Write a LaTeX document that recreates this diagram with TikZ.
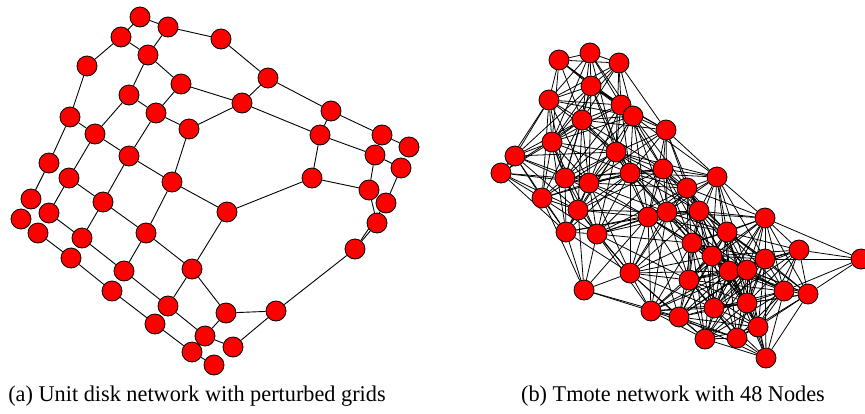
\documentclass[tikz,border=0pt]{standalone}
\usepackage{fontspec}
\setmainfont{Liberation Serif}
\usetikzlibrary{backgrounds}
\tikzset{
  vtx/.style={circle, draw=black, fill=red, line width=0.8pt, minimum size=20pt, inner sep=0pt},
  lnk/.style={draw=black, line width=0.9pt},
  tlnk/.style={draw=black, line width=0.8pt},
  captxt/.style={font=\fontsize{22.5}{26}\selectfont, anchor=base, inner sep=0pt, xscale=0.99}
}
\begin{document}
\begin{tikzpicture}[x=1pt, y=-1pt]
\useasboundingbox (0,0) rectangle (865,413);

% ---- (a) unit disk network on perturbed grids ----
\foreach \px/\py [count=\k] in {
  140/17, 168/27, 121/37, 148/55, 221/39, 87/66, 181/84, 129/95, 156/113, 268/78,
  242/103, 70/117, 95/134, 189/129, 49/163, 129/156, 69/178, 172/182, 331/111, 320/135,
  382/135, 409/147, 375/155, 401/168, 312/178, 369/190, 386/203, 377/223, 355/249, 227/212,
  31/199, 49/213, 21/219, 103/202, 38/233, 82/238, 146/233, 71/258, 124/271, 192/269,
  112/291, 168/306, 226/313, 276/311, 155/324, 205/336, 233/347, 192/352, 214/365}
  \node[vtx] (a\k) at (\px,\py) {};

\begin{scope}[on background layer]
\foreach \u/\v in {
  1/2, 1/3, 2/4, 2/5, 3/4, 3/6, 4/8, 4/7, 7/9, 7/11, 6/12, 8/9, 8/13, 9/14, 9/16,
  14/18, 14/11, 12/15, 12/13, 13/17, 13/16, 16/18, 16/34, 15/31, 17/34, 17/32,
  5/10, 10/11, 10/19, 11/20, 19/20, 19/21, 20/23, 20/25, 21/22, 23/24, 23/26,
  24/27, 26/25, 26/28, 28/29, 27/29, 29/44, 25/30, 30/18, 30/40, 34/36, 34/37,
  37/18, 37/39, 37/40, 32/36, 35/38, 36/39, 38/41, 39/42, 40/42, 40/43, 41/45,
  42/46, 45/48, 43/44, 43/46, 44/47, 46/47, 48/49}
  \draw[lnk] (a\u) -- (a\v);
\end{scope}

% ---- (b) Tmote network, 48 motes ----
\def\tx{{559,590,619,591,549,621,633,582,666,552,616,515,501,565,589,630,663,687,717,542,578,566,597,648,667,699,765,727,692,712,729,747,765,799,861,630,689,584,784,808,747,714,651,679,758,705,737,766}}
\def\ty{{60,53,63,86,100,105,116,120,130,142,152,156,173,178,183,173,169,188,177,198,210,232,234,217,212,211,218,232,243,256,271,270,259,250,259,273,280,290,291,294,303,308,311,317,327,339,338,358}}
\foreach \k in {1,...,48}{
  \pgfmathsetmacro\px{\tx[\k-1]}
  \pgfmathsetmacro\py{\ty[\k-1]}
  \node[vtx] (t\k) at (\px,\py) {};
}

% links between motes within radio range
\begin{scope}[on background layer]
\foreach \u in {1,...,47}{
  \pgfmathtruncatemacro\w{\u+1}
  \foreach \v in {\w,...,48}{
    \pgfmathsetmacro\dd{veclen((\tx[\u-1]-\tx[\v-1])/10,(\ty[\u-1]-\ty[\v-1])/10)}
    \ifdim\dd pt<10.5pt \draw[tlnk] (t\u) -- (t\v); \fi
  }
}
\end{scope}

% ---- captions ----
\node[captxt] (capa) at (197,401) {(a) Unit disk network with perturbed grids};
\node[captxt] (capb) at (673,401) {(b) Tmote network with 48 Nodes};
\end{tikzpicture}
\end{document}
